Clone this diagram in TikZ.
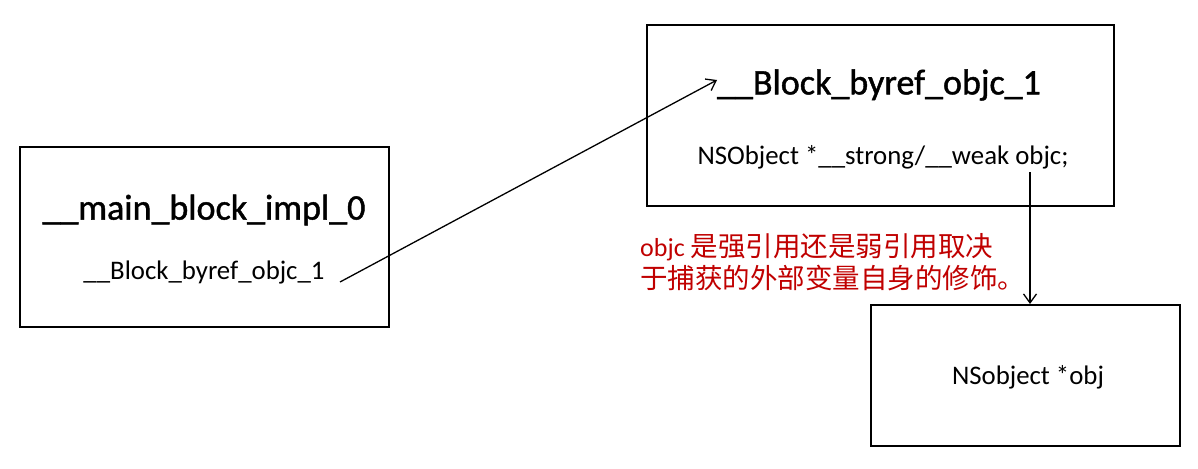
\documentclass[tikz,border=0pt]{standalone}
\usepackage{fontspec}
\setmainfont{Carlito}
\newfontfamily\titlefont[FakeBold=1.2]{Carlito}
\newfontfamily\cjk{Noto Sans CJK SC}
\usetikzlibrary{arrows.meta}
\definecolor{notered}{RGB}{192,0,0}
\begin{document}
\begin{tikzpicture}
  [x=1pt,y=-1pt,
   box/.style={draw,line width=2pt,inner sep=0pt},
   title/.style={inner sep=0pt,font=\titlefont\fontsize{36}{42}\selectfont},
   field/.style={inner sep=0pt,font=\fontsize{26.8}{32}\selectfont},
   link/.style={-{Straight Barb[length=9pt,width=13pt]},line width=1.3pt}]
  \useasboundingbox (0,0) rectangle (1198,468);

  \node[box,minimum width=369pt,minimum height=180pt] (impl) at (204.5,237) {};
  \node[box,minimum width=467pt,minimum height=181pt] (byref) at (880.5,115.5) {};
  \node[box,minimum width=309pt,minimum height=141pt] (obj) at (1025.5,375.5) {};

  \node[title] (impltitle) at (204,210) {\_\_main\_block\_impl\_0};
  \node[field] (implfield) at (204,272) {\_\_Block\_byref\_objc\_1};
  \node[title] (byreftitle) at (879,85) {\_\_Block\_byref\_objc\_1};
  \node[field] (byreffield) at (883,157) {NSObject *\_\_strong/\_\_weak objc;};
  \node[field] (objfield) at (1028,377) {NSobject *obj};

  \node[align=left,anchor=west,inner sep=0pt,text=notered,
        font=\fontsize{26}{32}\selectfont] (note) at (640,262)
    {objc {\cjk\fontsize{27.5}{32}\selectfont 是强引用还是弱引用取决}\\
     {\cjk\fontsize{27.5}{32}\selectfont 于捕获的外部变量自身的修饰。}};

  \coordinate (fieldend) at (340,282);
  \coordinate (titlestart) at (717,80);
  \coordinate (objcend) at (1030,172);

  \draw[link] (fieldend) -- (titlestart);
  \draw[link] (objcend) -- (objcend |- obj.north);

\end{tikzpicture}
\end{document}
